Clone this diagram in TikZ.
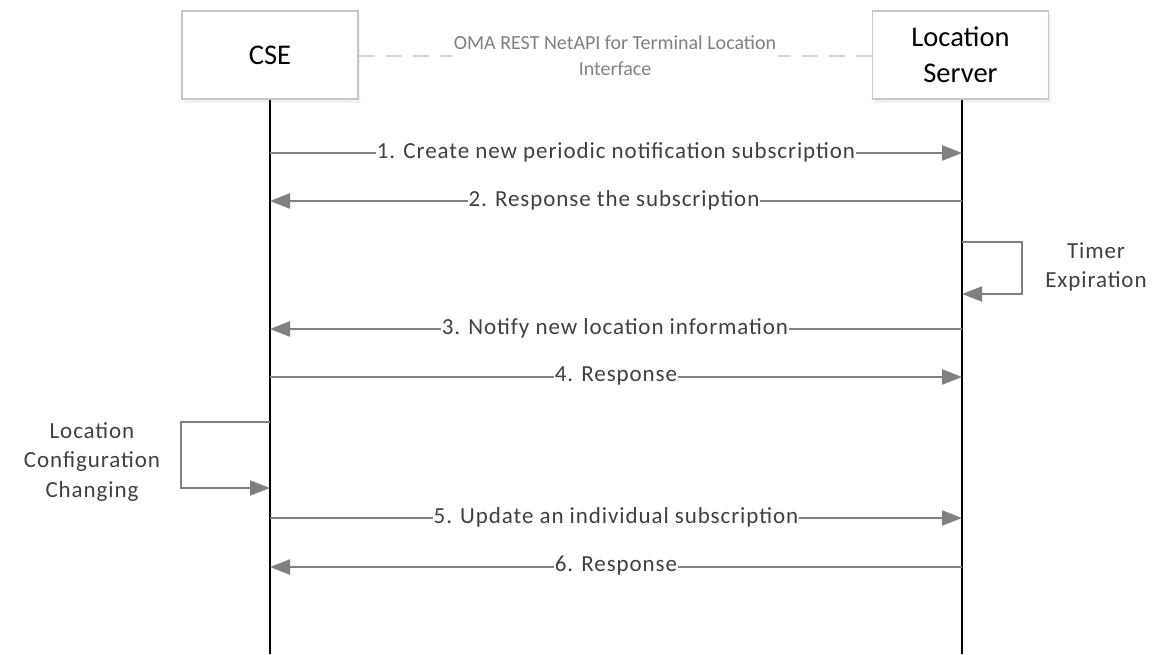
\documentclass[tikz,border=0pt]{standalone}
\usepackage{fontspec}
\setmainfont{Carlito}
\newfontfamily\lblfont{Carlito}[LetterSpace=4]
\usetikzlibrary{arrows.meta,shadows}
\definecolor{lineg}{HTML}{808080}
\definecolor{txtg}{HTML}{404040}
\definecolor{boxg}{HTML}{C8C8C8}
\definecolor{dashg}{HTML}{D4D4D4}
\begin{document}
\begin{tikzpicture}[x=1pt,y=-1pt,
  actor/.style={draw=boxg,line width=1.5pt,fill=white,minimum width=176pt,minimum height=88pt,inner sep=0pt,align=center,
    font=\fontsize{28.5}{36}\selectfont,
    drop shadow={shadow xshift=2pt,shadow yshift=-4pt,fill=blue!25,opacity=0.25}},
  lifeline/.style={draw=black,line width=2pt},
  msg/.style={draw=lineg,line width=2pt,-{Triangle[length=20pt,width=15pt]}},
  lbl/.style={fill=white,text=txtg,inner sep=1pt,font=\lblfont\fontsize{23}{29}\selectfont},
  note/.style={text=txtg,align=center,font=\lblfont\fontsize{23}{29.5}\selectfont},
  iface/.style={dashg,line width=2pt,dash pattern=on 16pt off 11pt},
  ifacelbl/.style={text=lineg,align=center,font=\fontsize{20}{26}\selectfont}]
\useasboundingbox (0,0) rectangle (1152,654);
\node[actor] (cse) at (270,55) {CSE};
\node[actor] (ls) at (960.5,55) {Location\\Server};
\coordinate (cseEnd) at (270,654);
\coordinate (lsEnd) at (962,654);
\draw[lifeline] (cse.south) -- (cseEnd);
\draw[lifeline] (ls.south -| lsEnd) -- (lsEnd);
% interface
\node[ifacelbl] (oma) at (615,56) {OMA REST NetAPI for Terminal Location\\Interface};
\coordinate (omaL) at (452,56);
\coordinate (omaR) at (778,56);
\draw[iface] (cse.east |- omaL) -- (omaL);
\draw[iface] (ls.west |- omaR) -- (omaR);
% messages
\coordinate (c1) at (270,153); \coordinate (l1) at (962,153);
\coordinate (c2) at (270,201); \coordinate (l2) at (962,201);
\coordinate (c3) at (270,329); \coordinate (l3) at (962,329);
\coordinate (c4) at (270,377); \coordinate (l4) at (962,377);
\coordinate (c5) at (270,518); \coordinate (l5) at (962,518);
\coordinate (c6) at (270,567); \coordinate (l6) at (962,567);
\draw[msg] (c1) -- node[lbl,yshift=1pt] (m1) {1. Create new periodic notification subscription} (l1);
\draw[msg] (l2) -- node[lbl,xshift=-2pt,yshift=1pt] (m2) {2. Response the subscription} (c2);
\draw[msg] (l3) -- node[lbl,xshift=-1pt,yshift=1pt] (m3) {3. Notify new location information} (c3);
\draw[msg] (c4) -- node[lbl,yshift=1pt] (m4) {4. Response} (l4);
\draw[msg] (c5) -- node[lbl,yshift=1pt] (m5) {5. Update an individual subscription} (l5);
\draw[msg] (l6) -- node[lbl,yshift=1pt] (m6) {6. Response} (c6);
% self loops
\coordinate (t1) at (962,242); \coordinate (t2) at (962,294);
\draw[msg] (t1) -- ++(60,0) |- (t2);
\node[note] (timer) at (1096,267) {Timer\\Expiration};
\coordinate (k1) at (270,422); \coordinate (k2) at (270,488);
\draw[msg] (k1) -- ++(-89,0) |- (k2);
\node[note] (cfg) at (92,462) {Location\\Configuration\\Changing};
\end{tikzpicture}
\end{document}
